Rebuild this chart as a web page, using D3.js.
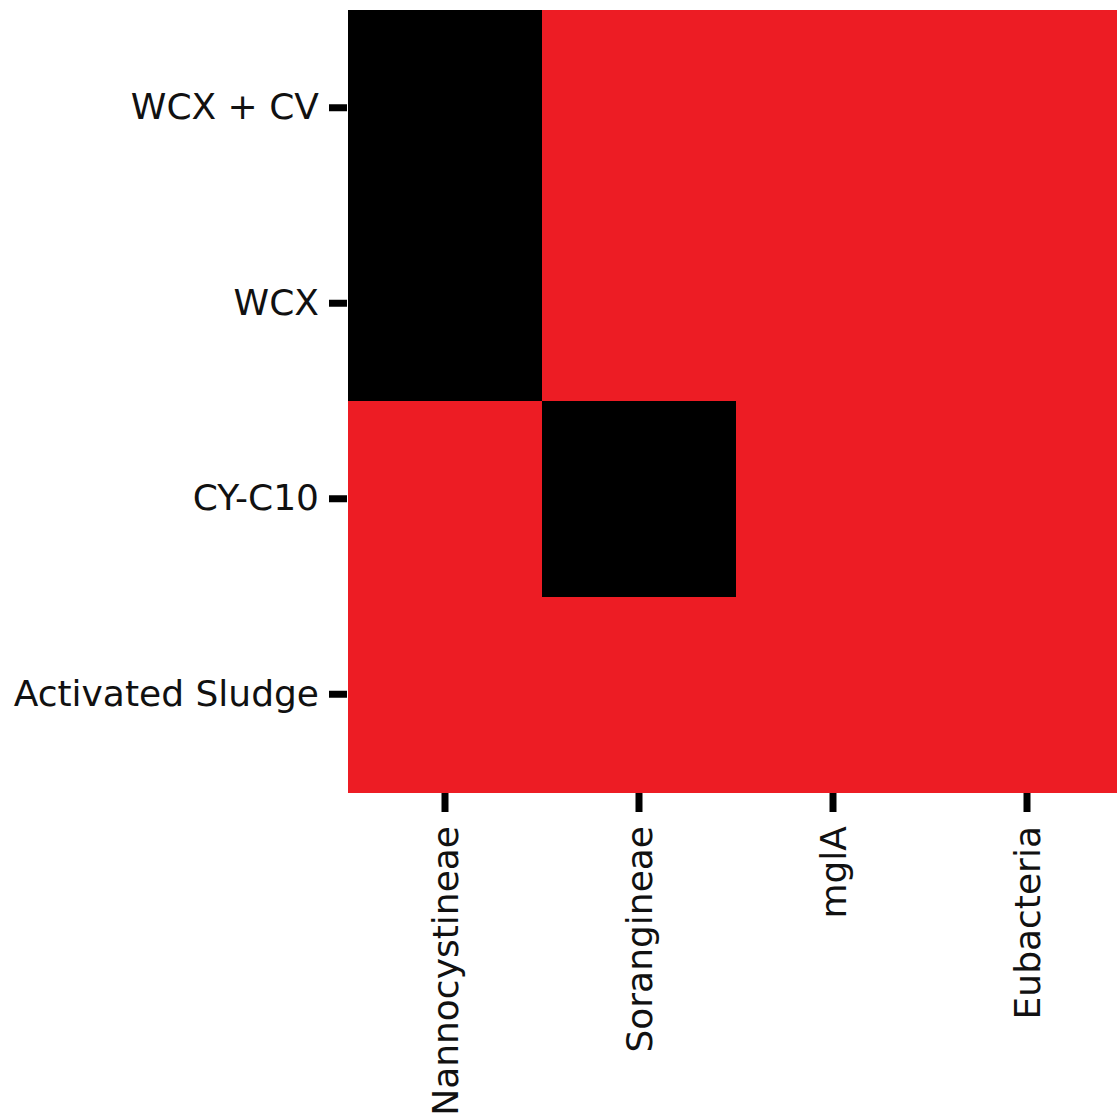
<!DOCTYPE html>
<html>
<head>
<meta charset="utf-8">
<script src="https://cdn.jsdelivr.net/npm/d3@7"></script>
<style>
  html, body { margin: 0; padding: 0; background: #fff; overflow: hidden; }
  svg { display: block; }
</style>
</head>
<body>
<svg id="chart" width="1117" height="1118"></svg>
<script>
// Samples (rows) and target groups (columns)
const samples = ["WCX + CV", "WCX", "CY-C10", "Activated Sludge"];
const targets = ["Nannocystineae", "Sorangineae", "mglA", "Eubacteria"];
// Detection matrix: 1 = not detected (black), 0 = detected (red)
const wcxCv   = [1, 0, 0, 0];
const wcx     = [1, 0, 0, 0];
const cyC10   = [0, 1, 0, 0];
const sludge  = [0, 0, 0, 0];
const matrix = [wcxCv, wcx, cyC10, sludge];

const svg = d3.select("#chart");
const plotLeft = 348, plotTop = 10, cellW = 194, plotBottom = 792;

const x = d3.scaleBand().domain(targets).range([plotLeft, plotLeft + cellW * targets.length]);
const y = d3.scaleBand().domain(samples).range([plotTop, plotBottom]);
const color = d3.scaleOrdinal().domain([0, 1]).range(["#ed1c24", "#000000"]);

const cells = [];
samples.forEach((s, i) => targets.forEach((t, j) => cells.push({ s, t, v: matrix[i][j] })));

svg.append("g").selectAll("rect").data(cells).join("rect")
  .attr("x", d => x(d.t))
  .attr("y", d => y(d.s))
  .attr("width", x.bandwidth() + 0.5)
  .attr("height", y.bandwidth() + 0.5)
  .attr("fill", d => color(d.v))
  .attr("shape-rendering", "crispEdges");

const font = "'DejaVu Sans', sans-serif";

const yAxis = svg.append("g")
  .attr("transform", `translate(${plotLeft - 1},0)`)
  .call(d3.axisLeft(y).tickSize(18).tickPadding(10));
yAxis.select(".domain").remove();
yAxis.selectAll(".tick line").attr("stroke", "#000").attr("stroke-width", 7);
yAxis.selectAll(".tick text")
  .attr("font-family", font).attr("font-size", 36).attr("fill", "#111");

const xAxis = svg.append("g")
  .attr("transform", `translate(0,${plotBottom + 1})`)
  .call(d3.axisBottom(x).tickSize(19).tickPadding(14));
xAxis.select(".domain").remove();
xAxis.selectAll(".tick line").attr("stroke", "#000").attr("stroke-width", 7);
xAxis.selectAll(".tick text")
  .attr("font-family", font).attr("font-size", 36).attr("fill", "#111")
  .attr("transform", "rotate(-90)")
  .attr("text-anchor", "end")
  .attr("x", -33)
  .attr("y", 0)
  .attr("dy", "0.35em");
</script>
</body>
</html>
